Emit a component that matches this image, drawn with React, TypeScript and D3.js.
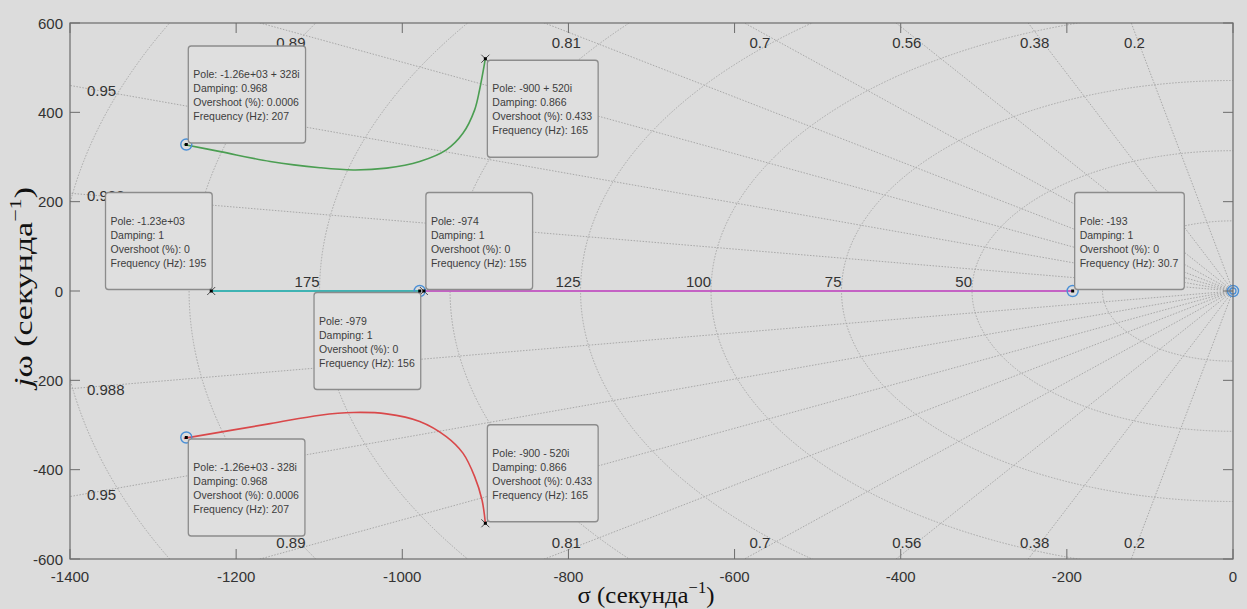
import React from 'react';
import * as d3 from 'd3';

const W = 1247;
const H = 609;

// axis ticks
const xTicks = [-1400, -1200, -1000, -800, -600, -400, -200, 0];
const yTicks = [-600, -400, -200, 0, 200, 400, 600];

// grid: damping ratios and natural frequencies (Hz)
const dampingValues = [0.2, 0.38, 0.56, 0.7, 0.81, 0.89, 0.95, 0.988];
const freqHz = [25, 50, 75, 100, 125, 150, 175, 200, 225];

// complex branches
const upperRe = [-1263, -1219, -1159, -1099, -1059, -1019, -979, -947, -927, -913, -907, -900];
const upperIm = [328, 312, 290, 276, 271, 275, 290, 316, 353, 405, 450, 520];
const lowerRe = [-1263, -1159, -1099, -1059, -1019, -979, -947, -927, -913, -904, -900];
const lowerIm = [-330, -297, -278, -272, -275, -292, -326, -363, -415, -468, -520];

// real axis branches
const cyanRe = [-1230, -979];
const magentaRe = [-974, -193];

// markers
const poleRe = [-900, -900, -1230, -974];
const poleIm = [520, -520, 0, 0];
const zeroRe = [-1260, -1260, -979, -193, 0];
const zeroIm = [328, -328, 0, 0, 0];

// data tips
const tipRe = [-1260, -900, -1230, -979, -974, -193, -1260, -900];
const tipIm = [328, 520, 0, 0, 0, 0, -328, -520];
const tipPole = ['-1.26e+03 + 328i', '-900 + 520i', '-1.23e+03', '-979', '-974', '-193', '-1.26e+03 - 328i', '-900 - 520i'];
const tipDamping = ['0.968', '0.866', '1', '1', '1', '1', '0.968', '0.866'];
const tipOvershoot = ['0.0006', '0.433', '0', '0', '0', '0', '0.0006', '0.433'];
const tipFreq = ['207', '165', '195', '156', '155', '30.7', '207', '165'];
const tipSide = ['ur', 'dr', 'ul', 'dl', 'ur', 'ur', 'dr', 'ur'];

const tipFont = "10.5px 'Liberation Sans', Arial, sans-serif";
let ctx: CanvasRenderingContext2D | null = null;
function textWidth(s: string) {
  if (!ctx) ctx = document.createElement('canvas').getContext('2d');
  if (!ctx) return s.length * 5;
  ctx.font = tipFont;
  return ctx.measureText(s).width;
}

export default function App() {
  const x = d3.scaleLinear().domain([-1400, 0]).range([70, 1233]);
  const y = d3.scaleLinear().domain([-600, 600]).range([559, 23]);
  const bg = '#dcdcdc';
  const gridCol = '#a8a8a8';
  const txt = '#333333';
  const frame = '#6c6c6c';

  const line = d3.line<[number, number]>()
    .x(d => x(d[0]))
    .y(d => y(d[1]))
    .curve(d3.curveCatmullRom.alpha(0.5));

  const upper: [number, number][] = upperRe.map((v, i) => [v, upperIm[i]]);
  const lower: [number, number][] = lowerRe.map((v, i) => [v, lowerIm[i]]);

  const R = 3000;
  const labelFont = "15px 'Liberation Sans', Arial, sans-serif";

  return (
    <svg width={W} height={H} style={{ position: 'absolute', left: 0, top: 0, display: 'block' }}>
      <defs>
        <clipPath id="axclip">
          <rect x={70} y={23} width={1163} height={536} />
        </clipPath>
      </defs>
      <rect x={0} y={0} width={W} height={H} fill={bg} />

      <g clipPath="url(#axclip)">
        {freqHz.map(f => {
          const r = 2 * Math.PI * f;
          return (
            <ellipse key={'c' + f} cx={x(0)} cy={y(0)} rx={x(0) - x(-r)} ry={y(0) - y(r)}
              fill="none" stroke={gridCol} strokeWidth={1} strokeDasharray="1.5 1.5" />
          );
        })}
        {dampingValues.map(z => {
          const s = Math.sqrt(1 - z * z);
          return (
            <g key={'z' + z}>
              <line x1={x(0)} y1={y(0)} x2={x(-z * R)} y2={y(s * R)} stroke={gridCol} strokeWidth={1} strokeDasharray="1.5 1.5" />
              <line x1={x(0)} y1={y(0)} x2={x(-z * R)} y2={y(-s * R)} stroke={gridCol} strokeWidth={1} strokeDasharray="1.5 1.5" />
            </g>
          );
        })}
      </g>

      {/* damping labels */}
      {dampingValues.map(z => {
        const s = Math.sqrt(1 - z * z);
        const xTop = -600 * z / s;
        if (xTop >= -1400) {
          const xa = -581 * z / s;
          return (
            <g key={'zl' + z} style={{ font: labelFont }} fill={txt} textAnchor="middle">
              <text x={x(xa)} y={y(600) + 19.5} dominantBaseline="central">{z}</text>
              <text x={x(xa)} y={y(-600) - 17} dominantBaseline="central">{z}</text>
            </g>
          );
        }
        const xl = x.invert(100);
        const yv = -xl * s / z;
        return (
          <g key={'zl' + z} style={{ font: labelFont }} fill={txt}>
            <text x={87} y={y(yv)} dominantBaseline="central">{z}</text>
            <text x={87} y={y(-yv) + 3} dominantBaseline="central">{z}</text>
          </g>
        );
      })}

      {/* frequency labels */}
      {freqHz.filter(f => 2 * Math.PI * f <= 1400).map(f => (
        <text key={'fl' + f} x={x(-2 * Math.PI * f)} y={y(0) - 4} textAnchor="end"
          style={{ font: labelFont }} fill={txt}>{f}</text>
      ))}

      {/* locus branches */}
      <path d={line(upper) || ''} fill="none" stroke="#4b9e52" strokeWidth={1.6} />
      <path d={line(lower) || ''} fill="none" stroke="#d9484a" strokeWidth={1.6} />
      <line x1={x(cyanRe[0])} x2={x(cyanRe[1])} y1={y(0)} y2={y(0)} stroke="#3fb3b3" strokeWidth={2} />
      <line x1={x(magentaRe[0])} x2={x(magentaRe[1])} y1={y(0)} y2={y(0)} stroke="#c462c4" strokeWidth={2} />

      {/* poles and zeros */}
      {poleRe.map((v, i) => {
        const px = x(v), py = y(poleIm[i]);
        return (
          <g key={'p' + i} stroke="#4a4a4a" strokeWidth={1}>
            <line x1={px - 4} y1={py - 4} x2={px + 4} y2={py + 4} />
            <line x1={px - 4} y1={py + 4} x2={px + 4} y2={py - 4} />
          </g>
        );
      })}
      {zeroRe.map((v, i) => (
        <circle key={'o' + i} cx={x(v)} cy={y(zeroIm[i])} r={5.5} fill="none" stroke="#4a8fd6" strokeWidth={1.4} />
      ))}
      <circle cx={x(0)} cy={y(0)} r={3} fill="none" stroke="#4a8fd6" strokeWidth={1.3} />

      {/* data tips */}
      {tipRe.map((v, i) => {
        const px = x(v), py = y(tipIm[i]);
        const lines = [
          'Pole: ' + tipPole[i],
          'Damping: ' + tipDamping[i],
          'Overshoot (%): ' + tipOvershoot[i],
          'Frequency (Hz): ' + tipFreq[i],
        ];
        const w = Math.max(...lines.map(textWidth)) + 11;
        const h = 97;
        const side = tipSide[i];
        const x0 = side[1] === 'r' ? px + 2 : px + 1 - w;
        const y0 = side[0] === 'u' ? py - 1.5 - h : py + 1.5;
        return (
          <g key={'t' + i}>
            <rect x={x0} y={y0} width={w} height={h} rx={3} fill="#dfdfdf" stroke="#8c8c8c" strokeWidth={1.3} />
            {lines.map((t, j) => (
              <text key={j} x={x0 + 5} y={y0 + 32 + j * 14} style={{ font: tipFont }} fill="#3d3d3d">{t}</text>
            ))}
            <rect x={px - 1.5} y={py - 1.5} width={3} height={3} fill="#000" />
          </g>
        );
      })}

      {/* frame and ticks */}
      <rect x={70} y={23} width={1163} height={536} fill="none" stroke={frame} strokeWidth={1.2} />
      {xTicks.map(t => (
        <g key={'xt' + t}>
          <line x1={x(t)} x2={x(t)} y1={559} y2={549} stroke={frame} />
          <line x1={x(t)} x2={x(t)} y1={23} y2={33} stroke={frame} />
          <text x={x(t)} y={576} textAnchor="middle" dominantBaseline="central"
            style={{ font: labelFont }} fill={txt}>{t}</text>
        </g>
      ))}
      {yTicks.map(t => (
        <g key={'yt' + t}>
          <line x1={70} x2={80} y1={y(t)} y2={y(t)} stroke={frame} />
          <line x1={1233} x2={1223} y1={y(t)} y2={y(t)} stroke={frame} />
          <text x={63} y={y(t)} textAnchor="end" dominantBaseline="central"
            style={{ font: labelFont }} fill={txt}>{t}</text>
        </g>
      ))}

      {/* axis titles */}
      <text x={646} y={603} textAnchor="middle" fill="#111" textLength={137} lengthAdjust="spacingAndGlyphs"
        style={{ font: "24px 'Liberation Serif', 'Times New Roman', serif" }}>
        σ (секунда<tspan dy={-10} fontSize={16}>−1</tspan><tspan dy={10}>)</tspan>
      </text>
      <text transform="translate(32,287) rotate(-90)" textAnchor="middle" fill="#111" textLength={200} lengthAdjust="spacingAndGlyphs"
        style={{ font: "26px 'Liberation Serif', 'Times New Roman', serif" }}>
        <tspan fontStyle="italic">j</tspan>ω (секунда<tspan dy={-11} fontSize={17}>−1</tspan><tspan dy={11}>)</tspan>
      </text>
    </svg>
  );
}
